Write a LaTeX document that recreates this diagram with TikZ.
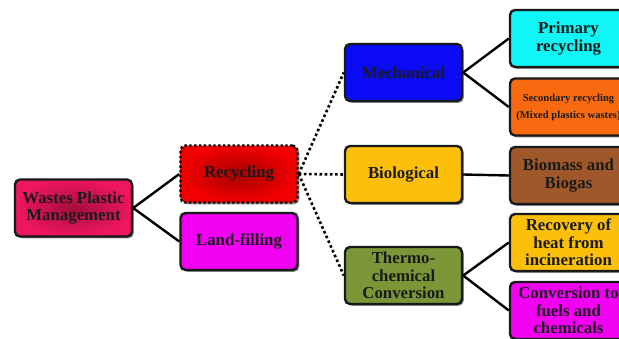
\documentclass[tikz,border=0pt]{standalone}
\usepackage{fontspec}
\setmainfont{Liberation Serif}
\usetikzlibrary{shadows}
\definecolor{wpm}{HTML}{EE1660}
\definecolor{wpmc}{HTML}{A50D3C}
\definecolor{recy}{HTML}{F20000}
\definecolor{recyc}{HTML}{A80000}
\definecolor{landf}{HTML}{F200F2}
\definecolor{mech}{HTML}{0A0AF5}
\definecolor{bio}{HTML}{FCC00A}
\definecolor{thermo}{HTML}{7A9636}
\definecolor{prim}{HTML}{10F5F5}
\definecolor{secd}{HTML}{F86A10}
\definecolor{biom}{HTML}{A0582A}
\definecolor{reco}{HTML}{FCC00A}
\definecolor{conv}{HTML}{F200F2}
\definecolor{txt}{HTML}{1A1A1A}
\tikzset{
  x=1pt, y=-1pt,
  box/.style={draw=black!90, line width=2.4pt, rounded corners=5pt,
    minimum width=117pt, minimum height=57pt, inner sep=1pt, align=center,
    text=txt, font=\bfseries\fontsize{16.8}{17.5}\selectfont,
    drop shadow={shadow xshift=1.8pt, shadow yshift=-1.8pt, opacity=0.45, fill=black}},
  link/.style={line width=2.4pt, black},
  dlink/.style={line width=2.6pt, black, dash pattern=on 2.6pt off 2.6pt}
}
\begin{document}
\begin{tikzpicture}
\useasboundingbox (0,0) rectangle (619,338);
\clip (0,0) rectangle (619,338);
\node[box, inner color=wpmc, outer color=wpm] (wpm) at (73.5,208) {Wastes Plastic\\Management};
\node[box, inner color=recyc, outer color=recy, dash pattern=on 2.4pt off 2.4pt, draw=black] (recy) at (239,174) {Recycling};
\node[box, fill=landf] (land) at (239,241.5) {Land-filling};
\node[box, fill=mech] (mech) at (403.5,72.5) {Mechanical};
\node[box, fill=bio] (bio) at (403.5,174.5) {Biological};
\node[box, fill=thermo] (thermo) at (403.5,275.5) {Thermo-\\chemical\\Conversion};
\node[box, fill=prim] (prim) at (568.5,38.5) {Primary\\recycling};
\node[box, fill=secd, font=\bfseries\fontsize{10.6}{17}\selectfont] (secd) at (568.5,107) {Secondary recycling\\(Mixed plastics wastes)};
\node[box, fill=biom] (biom) at (568.5,175.5) {Biomass and\\Biogas};
\node[box, fill=reco] (reco) at (568.5,242.5) {Recovery of\\heat from\\incineration};
\node[box, fill=conv] (conv) at (568.5,310.5) {Conversion to\\fuels and\\chemicals};
\draw[link] (wpm.east) -- (recy.west);
\draw[link] (wpm.east) -- (land.west);
\draw[dlink] (recy.east) -- (mech.west);
\draw[dlink] (recy.east) -- (bio.west);
\draw[dlink] (recy.east) -- (thermo.west);
\draw[link] (mech.east) -- (prim.west);
\draw[link] (mech.east) -- (secd.west);
\draw[link] (bio.east) -- (biom.west);
\draw[link] (thermo.east) -- (reco.west);
\draw[link] (thermo.east) -- (conv.west);
\end{tikzpicture}
\end{document}
